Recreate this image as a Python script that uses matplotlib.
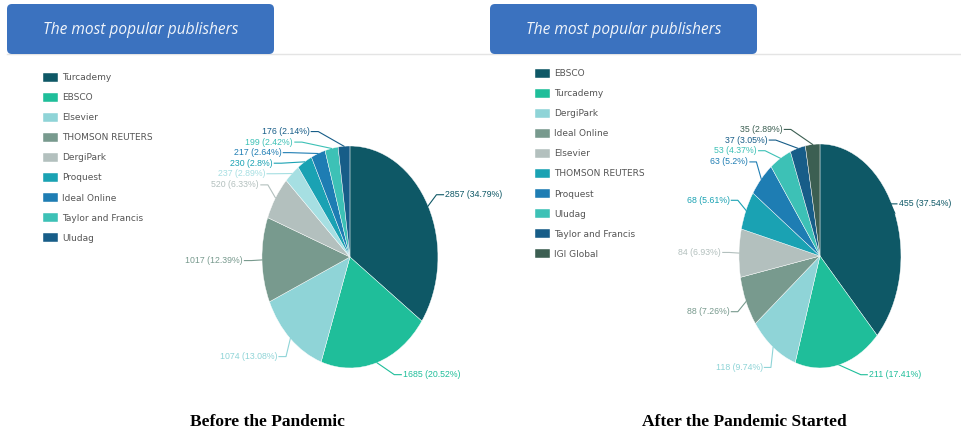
import numpy as np
import matplotlib.pyplot as plt
from matplotlib.patches import FancyBboxPatch

# ---- data ----
names_before = ["Turcademy", "EBSCO", "Elsevier", "THOMSON REUTERS", "DergiPark",
                None, "Proquest", "Ideal Online", "Taylor and Francis", "Uludag"]
values_before = [2857, 1685, 1074, 1017, 520, 237, 230, 217, 199, 176]
pct_before = [34.79, 20.52, 13.08, 12.39, 6.33, 2.89, 2.8, 2.64, 2.42, 2.14]
colors_before = ["#0e5866", "#1fbe9a", "#8fd4d7", "#789a8e", "#b3c0be",
                 "#a6dfe2", "#1aa2b3", "#1e7db3", "#3dc1b6", "#175d88"]

names_after = ["EBSCO", "Turcademy", "DergiPark", "Ideal Online", "Elsevier",
               "THOMSON REUTERS", "Proquest", "Uludag", "Taylor and Francis", "IGI Global"]
values_after = [455, 211, 118, 88, 84, 68, 63, 53, 37, 35]
pct_after = [37.54, 17.41, 9.74, 7.26, 6.93, 5.61, 5.2, 4.37, 3.05, 2.89]
colors_after = ["#0e5866", "#1fbe9a", "#8fd4d7", "#789a8e", "#b3c0be",
                "#1aa2b3", "#1e7db3", "#3dc1b6", "#175d88", "#3c5f52"]

header = "The most popular publishers"
captions = ["Before the Pandemic", "After the Pandemic Started"]

W, H = 961, 438
fig = plt.figure(figsize=(W / 100, H / 100), dpi=100)

# pixel overlay for the decorations
deco = fig.add_axes([0, 0, 1, 1])
deco.set_xlim(0, W)
deco.set_ylim(H, 0)
deco.axis("off")
deco.plot([7, W], [53.5, 53.5], color="#e4e4e4", lw=1, zorder=0)
for x0 in (7, 490):
    deco.add_patch(FancyBboxPatch((x0, 4), 267, 50, boxstyle="round,pad=0,rounding_size=5",
                                  fc="#3b72bf", ec="none", zorder=1))
    deco.text(x0 + 134, 30, header, color="#f0f4fa", fontsize=11.2, style="italic",
              family="Open Sans", ha="center", va="center", zorder=2)
for cx, cap in zip((267, 744), captions):
    deco.text(cx, 422, cap, fontsize=12.5, fontweight="bold", family="Liberation Serif",
              ha="center", va="center")


def pie_panel(rect, values, pcts, colors, names, legend_pos, xmax=None):
    ax = fig.add_axes(rect)
    wedges, _ = ax.pie(values, colors=colors, startangle=90, counterclock=False,
                       wedgeprops=dict(linewidth=0.3, edgecolor="white"))
    ax.set_aspect("auto")
    ax.set_xlim(-1.5, 1.5)
    ax.set_ylim(-1.5, 1.5)
    ax.axis("off")

    # data labels with simple collision handling (like highcharts)
    R, top, bottom, gap = 1.22, 1.13, -1.06, 0.095
    items = []
    for w, v, p, c in zip(wedges, values, pcts, colors):
        a = np.deg2rad((w.theta1 + w.theta2) / 2)
        ex, ey = np.cos(a), np.sin(a)
        items.append(dict(ex=ex, ey=ey, y=R * ey, side=1 if ex >= 0 else -1,
                          txt="{} ({:g}%)".format(v, p), c=c))
    for side in (1, -1):
        grp = sorted([it for it in items if it["side"] == side], key=lambda it: -it["y"])
        prev = top + gap
        for it in grp:
            it["y"] = min(it["y"], prev - gap)
            prev = it["y"]
        prev = bottom - gap
        for it in grp[::-1]:
            it["y"] = max(it["y"], prev + gap)
            prev = it["y"]
    for it in items:
        s = it["side"]
        x = s * np.sqrt(max(R ** 2 - it["y"] ** 2, 0.02))
        if xmax is not None and s > 0:
            x = min(x, xmax)
        ax.plot([it["ex"], x - s * 0.1, x - s * 0.02], [it["ey"], it["y"], it["y"]],
                color=it["c"], lw=0.8, clip_on=False)
        ax.text(x, it["y"], it["txt"], color=it["c"], fontsize=6.3, family="Liberation Sans",
                ha="left" if s > 0 else "right", va="center", clip_on=False)

    hs = [w for w, n in zip(wedges, names) if n is not None]
    ls = [n for n in names if n is not None]
    fig.legend(hs, ls, loc="upper left", bbox_to_anchor=legend_pos, frameon=False,
               fontsize=6.5, handlelength=1.7, handleheight=1.2, labelspacing=1.15,
               handletextpad=0.5, labelcolor="#555555", borderpad=0)
    return ax


pie_panel([0.2268, 0.0331, 0.2747, 0.7603], values_before, pct_before, colors_before,
          names_before, (38 / W, 1 - 68 / H))
pie_panel([0.7268, 0.0320, 0.2529, 0.7671], values_after, pct_after, colors_after,
          names_after, (530 / W, 1 - 64 / H), xmax=0.97)

plt.savefig("out.png", dpi=100)
